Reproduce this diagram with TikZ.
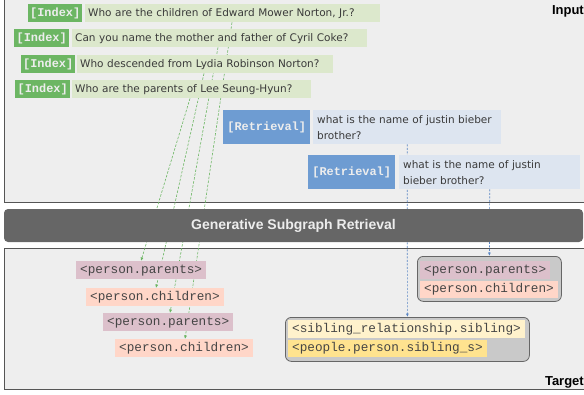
\documentclass[tikz,border=0pt]{standalone}
\usepackage{fontspec}
\setmainfont{DejaVu Sans}
\newfontfamily\qfont{DejaVu Sans}
\newfontfamily\codefont{Liberation Mono}
\newfontfamily\labfont{Liberation Sans}
\usetikzlibrary{arrows.meta}
\definecolor{panelgray}{HTML}{EEEEEE}
\definecolor{panelline}{HTML}{555555}
\definecolor{bargray}{HTML}{666666}
\definecolor{idxgreen}{HTML}{6CB663}
\definecolor{idxbg}{HTML}{DCE8CC}
\definecolor{retblue}{HTML}{6E9CD2}
\definecolor{retbg}{HTML}{DDE5F0}
\definecolor{retline}{HTML}{5A86C4}
\definecolor{parbg}{HTML}{DCC0CB}
\definecolor{chibg}{HTML}{FFD6C8}
\definecolor{sibbg}{HTML}{FFF2CC}
\definecolor{sibsbg}{HTML}{FFE38F}
\definecolor{boxgray}{HTML}{C9C9C9}
\definecolor{boxline}{HTML}{666666}
\definecolor{qink}{HTML}{3A3A3A}
\definecolor{codeink}{HTML}{454545}
\definecolor{tagink}{HTML}{EDEDED}
\pgfdeclarelayer{back}
\pgfsetlayers{back,main}
\tikzset{
  tagbox/.style={anchor=north west,inner sep=0pt,minimum height=18pt,text=tagink,
    font=\codefont\bfseries\fontsize{11.9}{12}\selectfont},
  idxtag/.style={tagbox,fill=idxgreen},
  rettag/.style={tagbox,fill=retblue,minimum width=87pt,minimum height=34pt},
  qbox/.style={anchor=north west,inner xsep=3pt,inner ysep=0pt,minimum height=18pt,
    align=left,text=qink,font=\qfont\fontsize{10.5}{16}\selectfont},
  idxtext/.style={qbox,fill=idxbg},
  rettext/.style={qbox,fill=retbg,inner xsep=4pt,minimum height=34pt},
  item/.style={anchor=north west,inner xsep=4pt,inner ysep=0pt,minimum height=18pt,
    text=codeink,font=\codefont\fontsize{12.7}{13}\selectfont},
  group/.style={anchor=north west,draw=boxline,line width=0.8pt,fill=boxgray,
    rounded corners=6pt},
  bar/.style={fill=bargray,rounded corners=4pt,minimum width=579pt,minimum height=33pt,
    text=tagink,font=\labfont\bfseries\fontsize{14}{16}\selectfont},
  lab/.style={anchor=base east,inner sep=0pt,font=\labfont\bfseries\fontsize{13}{15}\selectfont},
  idxarrow/.style={idxgreen,line width=0.6pt,dash pattern=on 2.5pt off 1.5pt,
    -{Latex[length=3.5pt,width=3pt]}},
  retarrow/.style={retline,line width=0.7pt,dash pattern=on 2pt off 1.5pt,
    -{Latex[length=3.5pt,width=3pt]}}
}
\begin{document}
\begin{tikzpicture}[x=1pt,y=-1pt]
\useasboundingbox (0,0) rectangle (584,394);
\begin{pgfonlayer}{back}
  \fill[panelgray] (4.5,-5) rectangle (590,202);
  \draw[panelline,line width=0.8pt] (4.5,-5) -- (4.5,202) -- (590,202);
  \fill[panelgray] (4.5,248) rectangle (590,389);
  \draw[panelline,line width=0.8pt] (590,248) -- (4.5,248) -- (4.5,389) -- (590,389);
\end{pgfonlayer}

\node[idxtag,minimum width=54pt] (t1) at (28,4) {[Index]};
\node[idxtext,text width=289pt] (q1) at (85,4) {Who are the children of Edward Mower Norton, Jr.?};
\node[idxtag,minimum width=55pt] (t2) at (14,29) {[Index]};
\node[idxtext,text width=289pt] (q2) at (72,29) {Can you name the mother and father of Cyril Coke?};
\node[idxtag,minimum width=54pt] (t3) at (21,55) {[Index]};
\node[idxtext,text width=250pt] (q3) at (77,55) {Who descended from Lydia Robinson Norton?};
\node[idxtag,minimum width=55pt] (t4) at (15,80) {[Index]};
\node[idxtext,text width=233pt] (q4) at (72,80) {Who are the parents of Lee Seung-Hyun?};

\node[rettag] (rt1) at (223,110) {[Retrieval]};
\node[rettext,text width=180pt] (r1) at (313,110) {what is the name of justin bieber\\brother?};
\node[rettag] (rt2) at (308,155) {[Retrieval]};
\node[rettext,text width=173pt] (r2) at (399,155) {what is the name of justin\\bieber brother?};

\node[bar] (gsr) at (293.5,225.5) {Generative Subgraph Retrieval};

\node[item,fill=parbg] (p1) at (76,261) {<person.parents>};
\node[item,fill=chibg] (c1) at (86,288) {<person.children>};
\node[item,fill=parbg] (p2) at (103,313) {<person.parents>};
\node[item,fill=chibg] (c2) at (115,339) {<person.children>};

\node[group,minimum width=144pt,minimum height=45pt] (g1) at (417,256) {};
\node[item,fill=parbg] (p3) at (420,261) {<person.parents>};
\node[item,fill=chibg,minimum height=17pt] (c3) at (420,281) {<person.children>};
\node[group,minimum width=244pt,minimum height=44pt] (g2) at (285,317) {};
\node[item,fill=sibbg] (s1) at (288,320) {<sibling\_relationship.sibling>};
\node[item,fill=sibsbg,minimum height=17pt] (s2) at (288,340) {<people.person.sibling\_s>};

\node[lab] (inp) at (584,14) {Input};
\node[lab] (tgt) at (584,385) {Target};

\begin{pgfonlayer}{back}
  \draw[idxarrow] ([xshift=147pt]q1.south west) -- ([xshift=70pt]c2.north west);
  \draw[idxarrow] ([xshift=146pt]q2.south west) -- ([xshift=67pt]p2.north west);
  \draw[idxarrow] ([xshift=127pt]q3.south west) -- ([xshift=70pt]c1.north west);
  \draw[idxarrow] ([xshift=118pt]q4.south west) -- ([xshift=65pt]p1.north west);
  \draw[retarrow] (r1.south) -- (g2.north);
  \draw[retarrow] (r2.south) -- (g1.north);
\end{pgfonlayer}
\end{tikzpicture}
\end{document}
